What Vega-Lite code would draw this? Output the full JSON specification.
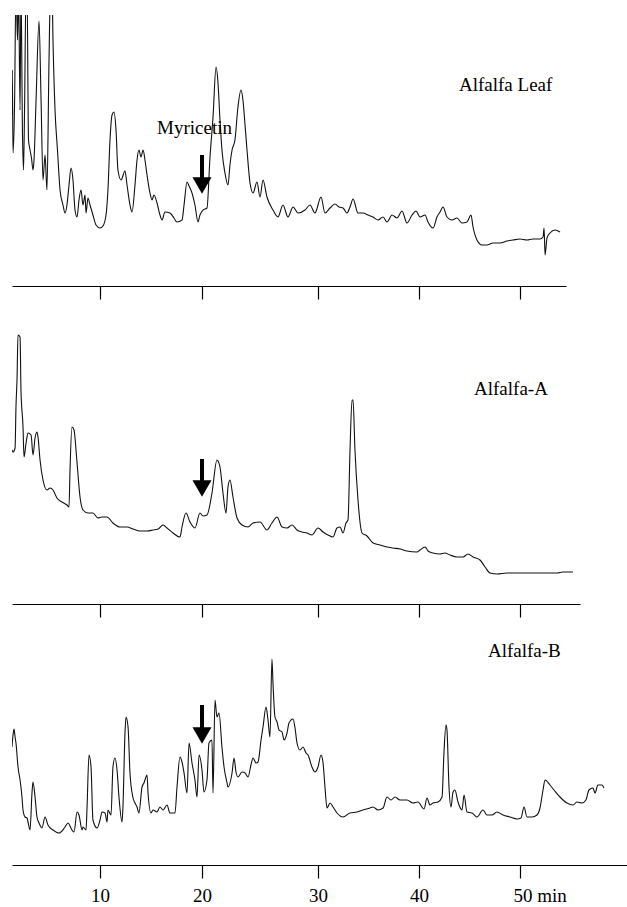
{
  "$schema": "https://vega.github.io/schema/vega-lite/v6.json",
  "padding": {"left": 12, "top": 15, "right": 0, "bottom": 0},
  "spacing": 0,
  "background": "white",
  "config": {"view": {"stroke": null}, "font": "Liberation Serif"},
  "datasets": {
    "leaf": [
      {"t":1.37,"v":171},{"t":1.40,"v":216},{"t":1.47,"v":133},{"t":1.62,"v":181},{"t":1.76,"v":300},{"t":1.91,"v":246},{"t":2.01,"v":300},{"t":2.16,"v":176},{"t":2.25,"v":300},{"t":2.40,"v":151},{"t":2.50,"v":116},{"t":2.60,"v":176},{"t":2.75,"v":300},{"t":2.84,"v":300},{"t":2.99,"v":146},{"t":3.14,"v":136},{"t":3.28,"v":128},{"t":3.43,"v":116},{"t":3.53,"v":126},{"t":3.73,"v":186},{"t":4.02,"v":265},{"t":4.22,"v":186},{"t":4.41,"v":106},{"t":4.61,"v":131},{"t":4.80,"v":96},{"t":5.00,"v":226},{"t":5.15,"v":300},{"t":5.29,"v":300},{"t":5.39,"v":246},{"t":5.59,"v":176},{"t":5.83,"v":136},{"t":6.08,"v":96},{"t":6.37,"v":81},{"t":6.57,"v":73},{"t":6.76,"v":81},{"t":6.96,"v":101},{"t":7.16,"v":118},{"t":7.35,"v":106},{"t":7.55,"v":76},{"t":7.75,"v":69},{"t":7.94,"v":86},{"t":8.14,"v":96},{"t":8.33,"v":81},{"t":8.53,"v":91},{"t":8.63,"v":73},{"t":8.82,"v":88},{"t":9.02,"v":81},{"t":9.31,"v":71},{"t":9.61,"v":61},{"t":10.00,"v":58},{"t":10.29,"v":60},{"t":10.59,"v":71},{"t":10.78,"v":96},{"t":10.98,"v":146},{"t":11.18,"v":171},{"t":11.37,"v":174},{"t":11.57,"v":156},{"t":11.76,"v":116},{"t":12.06,"v":106},{"t":12.45,"v":115},{"t":12.65,"v":101},{"t":12.94,"v":81},{"t":13.14,"v":74},{"t":13.43,"v":101},{"t":13.63,"v":126},{"t":13.82,"v":136},{"t":14.02,"v":129},{"t":14.22,"v":136},{"t":14.41,"v":126},{"t":14.61,"v":111},{"t":14.90,"v":93},{"t":15.10,"v":86},{"t":15.29,"v":91},{"t":15.59,"v":83},{"t":15.88,"v":71},{"t":16.08,"v":66},{"t":16.37,"v":74},{"t":16.86,"v":73},{"t":17.25,"v":68},{"t":17.55,"v":64},{"t":18.04,"v":66},{"t":18.24,"v":81},{"t":18.53,"v":104},{"t":18.73,"v":100},{"t":19.02,"v":93},{"t":19.31,"v":81},{"t":19.61,"v":64},{"t":19.80,"v":71},{"t":20.09,"v":76},{"t":20.43,"v":78},{"t":20.69,"v":129},{"t":20.95,"v":169},{"t":21.21,"v":219},{"t":21.38,"v":203},{"t":21.55,"v":166},{"t":21.72,"v":136},{"t":21.98,"v":113},{"t":22.24,"v":101},{"t":22.41,"v":121},{"t":22.59,"v":136},{"t":22.84,"v":146},{"t":23.10,"v":179},{"t":23.36,"v":196},{"t":23.53,"v":186},{"t":23.71,"v":161},{"t":23.88,"v":136},{"t":24.14,"v":103},{"t":24.40,"v":93},{"t":24.74,"v":104},{"t":25.00,"v":89},{"t":25.26,"v":106},{"t":25.60,"v":89},{"t":26.12,"v":76},{"t":26.55,"v":69},{"t":26.98,"v":81},{"t":27.41,"v":69},{"t":27.85,"v":79},{"t":28.28,"v":73},{"t":28.88,"v":76},{"t":29.31,"v":81},{"t":29.74,"v":73},{"t":30.30,"v":89},{"t":30.69,"v":73},{"t":31.19,"v":78},{"t":31.68,"v":82},{"t":32.08,"v":79},{"t":32.48,"v":78},{"t":32.87,"v":73},{"t":33.17,"v":79},{"t":33.47,"v":87},{"t":33.96,"v":73},{"t":34.46,"v":73},{"t":34.95,"v":71},{"t":35.45,"v":69},{"t":35.94,"v":66},{"t":36.44,"v":69},{"t":36.83,"v":64},{"t":37.33,"v":71},{"t":37.82,"v":68},{"t":38.32,"v":75},{"t":38.81,"v":63},{"t":39.31,"v":71},{"t":39.70,"v":75},{"t":40.10,"v":69},{"t":40.60,"v":71},{"t":40.89,"v":64},{"t":41.39,"v":58},{"t":41.78,"v":69},{"t":42.08,"v":74},{"t":42.38,"v":79},{"t":42.77,"v":69},{"t":43.27,"v":66},{"t":43.76,"v":68},{"t":44.26,"v":63},{"t":44.75,"v":64},{"t":45.15,"v":71},{"t":45.35,"v":59},{"t":45.74,"v":46},{"t":46.24,"v":41},{"t":46.73,"v":41},{"t":47.33,"v":43},{"t":48.02,"v":43},{"t":48.71,"v":45},{"t":49.31,"v":46},{"t":50.00,"v":47},{"t":50.69,"v":46},{"t":51.29,"v":47},{"t":51.98,"v":47},{"t":52.28,"v":49},{"t":52.38,"v":58},{"t":52.48,"v":31},{"t":52.67,"v":48},{"t":52.97,"v":53},{"t":53.46,"v":56},{"t":53.96,"v":54}
    ],
    "alfA": [
      {"t":1.37,"v":154},{"t":1.47,"v":152},{"t":1.67,"v":156},{"t":1.76,"v":197},{"t":1.86,"v":224},{"t":1.96,"v":269},{"t":2.16,"v":267},{"t":2.25,"v":214},{"t":2.45,"v":177},{"t":2.55,"v":147},{"t":2.75,"v":161},{"t":2.94,"v":171},{"t":3.24,"v":169},{"t":3.43,"v":149},{"t":3.63,"v":166},{"t":3.82,"v":172},{"t":3.92,"v":167},{"t":4.12,"v":144},{"t":4.41,"v":124},{"t":4.80,"v":114},{"t":5.10,"v":116},{"t":5.39,"v":114},{"t":5.78,"v":106},{"t":6.27,"v":102},{"t":6.76,"v":99},{"t":6.96,"v":97},{"t":7.06,"v":134},{"t":7.25,"v":177},{"t":7.45,"v":174},{"t":7.75,"v":141},{"t":8.04,"v":107},{"t":8.33,"v":94},{"t":8.82,"v":91},{"t":9.31,"v":91},{"t":9.80,"v":86},{"t":10.20,"v":87},{"t":10.69,"v":87},{"t":11.27,"v":81},{"t":11.96,"v":77},{"t":12.65,"v":77},{"t":13.24,"v":75},{"t":13.92,"v":73},{"t":14.61,"v":73},{"t":15.20,"v":74},{"t":15.69,"v":75},{"t":16.18,"v":79},{"t":16.57,"v":76},{"t":17.16,"v":71},{"t":17.84,"v":67},{"t":18.04,"v":77},{"t":18.43,"v":91},{"t":18.82,"v":82},{"t":19.31,"v":76},{"t":19.80,"v":91},{"t":20.09,"v":88},{"t":20.43,"v":89},{"t":20.86,"v":111},{"t":21.29,"v":144},{"t":21.55,"v":137},{"t":21.81,"v":111},{"t":22.07,"v":91},{"t":22.24,"v":117},{"t":22.41,"v":124},{"t":22.67,"v":107},{"t":23.02,"v":86},{"t":23.45,"v":79},{"t":23.97,"v":77},{"t":24.40,"v":81},{"t":25.00,"v":82},{"t":25.60,"v":74},{"t":26.03,"v":81},{"t":26.47,"v":87},{"t":26.90,"v":77},{"t":27.33,"v":76},{"t":27.76,"v":79},{"t":28.19,"v":74},{"t":28.62,"v":72},{"t":29.05,"v":71},{"t":29.48,"v":69},{"t":30.00,"v":76},{"t":30.50,"v":72},{"t":30.99,"v":69},{"t":31.49,"v":67},{"t":31.88,"v":76},{"t":32.18,"v":77},{"t":32.48,"v":71},{"t":32.77,"v":81},{"t":32.97,"v":84},{"t":33.17,"v":154},{"t":33.37,"v":204},{"t":33.47,"v":204},{"t":33.66,"v":154},{"t":33.96,"v":104},{"t":34.36,"v":71},{"t":34.85,"v":68},{"t":35.45,"v":61},{"t":36.14,"v":59},{"t":36.83,"v":57},{"t":37.43,"v":56},{"t":38.12,"v":55},{"t":38.81,"v":53},{"t":39.80,"v":52},{"t":40.10,"v":54},{"t":40.60,"v":57},{"t":40.89,"v":53},{"t":41.39,"v":51},{"t":42.08,"v":50},{"t":42.57,"v":51},{"t":43.07,"v":49},{"t":43.76,"v":47},{"t":44.36,"v":47},{"t":44.85,"v":50},{"t":45.35,"v":47},{"t":46.04,"v":44},{"t":46.54,"v":37},{"t":47.03,"v":31},{"t":47.72,"v":30},{"t":48.71,"v":31},{"t":50.00,"v":31},{"t":51.29,"v":31},{"t":52.67,"v":31},{"t":53.66,"v":31},{"t":54.26,"v":32},{"t":55.25,"v":32}
    ],
    "alfB": [
      {"t":1.37,"v":118},{"t":1.47,"v":130},{"t":1.57,"v":136},{"t":1.67,"v":128},{"t":1.76,"v":122},{"t":1.96,"v":98},{"t":2.16,"v":85},{"t":2.35,"v":68},{"t":2.45,"v":55},{"t":2.65,"v":48},{"t":2.84,"v":47},{"t":2.94,"v":43},{"t":3.14,"v":35},{"t":3.33,"v":72},{"t":3.43,"v":83},{"t":3.63,"v":68},{"t":3.82,"v":48},{"t":4.02,"v":42},{"t":4.31,"v":37},{"t":4.61,"v":48},{"t":4.90,"v":40},{"t":5.39,"v":35},{"t":5.98,"v":32},{"t":6.57,"v":38},{"t":6.86,"v":42},{"t":7.25,"v":35},{"t":7.45,"v":33},{"t":7.75,"v":53},{"t":7.94,"v":50},{"t":8.24,"v":35},{"t":8.33,"v":38},{"t":8.63,"v":35},{"t":8.73,"v":58},{"t":8.92,"v":110},{"t":9.12,"v":98},{"t":9.31,"v":45},{"t":9.71,"v":37},{"t":10.00,"v":45},{"t":10.20,"v":53},{"t":10.49,"v":52},{"t":10.69,"v":43},{"t":10.78,"v":55},{"t":11.08,"v":50},{"t":11.27,"v":98},{"t":11.47,"v":107},{"t":11.67,"v":95},{"t":11.86,"v":68},{"t":12.16,"v":43},{"t":12.25,"v":58},{"t":12.45,"v":132},{"t":12.55,"v":148},{"t":12.75,"v":138},{"t":12.94,"v":92},{"t":13.24,"v":67},{"t":13.43,"v":62},{"t":13.63,"v":58},{"t":13.82,"v":52},{"t":14.12,"v":78},{"t":14.31,"v":82},{"t":14.61,"v":90},{"t":14.71,"v":72},{"t":15.00,"v":52},{"t":15.20,"v":55},{"t":15.59,"v":53},{"t":15.88,"v":58},{"t":16.18,"v":55},{"t":16.57,"v":60},{"t":16.86,"v":52},{"t":17.35,"v":52},{"t":17.55,"v":78},{"t":17.84,"v":108},{"t":18.04,"v":103},{"t":18.24,"v":92},{"t":18.53,"v":72},{"t":18.73,"v":122},{"t":19.02,"v":102},{"t":19.31,"v":85},{"t":19.51,"v":68},{"t":19.71,"v":110},{"t":20.00,"v":95},{"t":20.17,"v":73},{"t":20.43,"v":85},{"t":20.60,"v":122},{"t":20.86,"v":125},{"t":20.95,"v":72},{"t":21.12,"v":165},{"t":21.29,"v":148},{"t":21.47,"v":152},{"t":21.72,"v":118},{"t":21.90,"v":98},{"t":22.16,"v":82},{"t":22.24,"v":78},{"t":22.59,"v":92},{"t":22.76,"v":107},{"t":22.93,"v":93},{"t":23.10,"v":88},{"t":23.45,"v":93},{"t":23.71,"v":92},{"t":23.97,"v":88},{"t":24.22,"v":100},{"t":24.40,"v":107},{"t":24.66,"v":102},{"t":24.83,"v":103},{"t":25.09,"v":125},{"t":25.26,"v":138},{"t":25.52,"v":158},{"t":25.69,"v":145},{"t":25.86,"v":128},{"t":26.03,"v":206},{"t":26.12,"v":182},{"t":26.29,"v":148},{"t":26.47,"v":143},{"t":26.64,"v":135},{"t":26.90,"v":133},{"t":27.07,"v":125},{"t":27.33,"v":132},{"t":27.50,"v":142},{"t":27.85,"v":146},{"t":28.02,"v":137},{"t":28.19,"v":122},{"t":28.45,"v":115},{"t":28.71,"v":118},{"t":28.97,"v":112},{"t":29.14,"v":110},{"t":29.48,"v":98},{"t":29.74,"v":93},{"t":30.00,"v":98},{"t":30.30,"v":110},{"t":30.50,"v":102},{"t":30.69,"v":78},{"t":30.89,"v":57},{"t":31.19,"v":62},{"t":31.49,"v":58},{"t":31.88,"v":52},{"t":32.48,"v":48},{"t":33.17,"v":52},{"t":33.86,"v":53},{"t":34.46,"v":55},{"t":35.15,"v":57},{"t":35.45,"v":58},{"t":35.94,"v":55},{"t":36.44,"v":57},{"t":36.83,"v":68},{"t":37.23,"v":65},{"t":37.62,"v":68},{"t":38.12,"v":65},{"t":38.81,"v":65},{"t":39.41,"v":62},{"t":39.90,"v":63},{"t":40.50,"v":56},{"t":40.79,"v":67},{"t":41.09,"v":60},{"t":41.39,"v":62},{"t":41.88,"v":63},{"t":42.28,"v":68},{"t":42.47,"v":112},{"t":42.67,"v":140},{"t":42.77,"v":135},{"t":42.97,"v":78},{"t":43.17,"v":58},{"t":43.37,"v":73},{"t":43.56,"v":75},{"t":43.86,"v":63},{"t":44.26,"v":55},{"t":44.46,"v":70},{"t":44.75,"v":53},{"t":45.25,"v":52},{"t":45.74,"v":48},{"t":46.34,"v":55},{"t":46.73,"v":50},{"t":47.23,"v":50},{"t":47.72,"v":53},{"t":48.32,"v":50},{"t":49.01,"v":48},{"t":49.70,"v":46},{"t":50.10,"v":47},{"t":50.40,"v":58},{"t":50.69,"v":48},{"t":51.19,"v":48},{"t":51.68,"v":50},{"t":51.98,"v":57},{"t":52.28,"v":75},{"t":52.48,"v":85},{"t":52.97,"v":80},{"t":53.37,"v":75},{"t":53.96,"v":68},{"t":54.65,"v":62},{"t":55.25,"v":60},{"t":55.64,"v":63},{"t":56.14,"v":62},{"t":56.53,"v":65},{"t":56.83,"v":75},{"t":57.23,"v":77},{"t":57.43,"v":72},{"t":57.72,"v":80},{"t":58.12,"v":80},{"t":58.32,"v":77}
    ],
    "labels": [
      {"panel":"leaf","t":43.96,"v":195,"label":"Alfalfa Leaf"},
      {"panel":"leaf","t":15.59,"v":152,"label":"Myricetin"},
      {"panel":"A","t":45.45,"v":209,"label":"Alfalfa-A"},
      {"panel":"B","t":46.83,"v":208,"label":"Alfalfa-B"}
    ],
    "arrows": [
      {"panel":"leaf","t":20,"top":131,"bot":104,"head":100.5},
      {"panel":"A","t":20,"top":145,"bot":119,"head":115.5},
      {"panel":"B","t":20,"top":160,"bot":133,"head":129.5}
    ]
  },
  "resolve": {"scale": {"x": "independent", "y": "independent"}},
  "vconcat": [
    {
      "width": 554, "height": 271,
      "encoding": {
        "x": {"field": "t", "type": "quantitative",
          "scale": {"domain": [1.37, 10, 20, 30, 40, 50, 54.55], "range": [0, 88, 190, 306, 407, 508, 554], "nice": false, "zero": false},
          "axis": {"values": [10, 20, 30, 40, 50], "labels": false, "tickSize": 13, "tickColor": "black", "tickWidth": 1.2, "domainColor": "black", "domainWidth": 1.2, "title": null, "grid": false, "minExtent": 0, "offset": 0}},
        "y": {"field": "v", "type": "quantitative", "scale": {"domain": [0, 271], "nice": false, "zero": false}, "axis": null}
      },
      "layer": [
        {"data": {"name": "leaf"}, "mark": {"type": "line", "color": "#111111", "strokeWidth": 1.1, "clip": true, "interpolate": "monotone"}},
        {"data": {"name": "labels"}, "transform": [{"filter": "datum.panel == 'leaf'"}],
          "mark": {"type": "text", "align": "left", "baseline": "alphabetic", "fontSize": 19, "font": "Liberation Serif", "color": "black"},
          "encoding": {"text": {"field": "label"}}},
        {"data": {"name": "arrows"}, "transform": [{"filter": "datum.panel == 'leaf'"}],
          "mark": {"type": "rule", "strokeWidth": 4, "color": "black"},
          "encoding": {"y": {"field": "top", "type": "quantitative", "scale": {"domain": [0, 271], "nice": false, "zero": false}, "axis": null}, "y2": {"field": "bot"}}},
        {"data": {"name": "arrows"}, "transform": [{"filter": "datum.panel == 'leaf'"}],
          "mark": {"type": "point", "shape": "triangle-down", "size": 361, "filled": true, "opacity": 1, "color": "black", "strokeWidth": 0},
          "encoding": {"y": {"field": "head", "type": "quantitative", "scale": {"domain": [0, 271], "nice": false, "zero": false}, "axis": null}}}
      ]
    },
    {
      "width": 568, "height": 304,
      "encoding": {
        "x": {"field": "t", "type": "quantitative",
          "scale": {"domain": [1.37, 10, 20, 30, 40, 50, 55.94], "range": [0, 88, 190, 306, 407, 508, 568], "nice": false, "zero": false},
          "axis": {"values": [10, 20, 30, 40, 50], "labels": false, "tickSize": 13, "tickColor": "black", "tickWidth": 1.2, "domainColor": "black", "domainWidth": 1.2, "title": null, "grid": false, "minExtent": 0, "offset": 0}},
        "y": {"field": "v", "type": "quantitative", "scale": {"domain": [0, 304], "nice": false, "zero": false}, "axis": null}
      },
      "layer": [
        {"data": {"name": "alfA"}, "mark": {"type": "line", "color": "#111111", "strokeWidth": 1.1, "clip": true, "interpolate": "monotone"}},
        {"data": {"name": "labels"}, "transform": [{"filter": "datum.panel == 'A'"}],
          "mark": {"type": "text", "align": "left", "baseline": "alphabetic", "fontSize": 19, "font": "Liberation Serif", "color": "black"},
          "encoding": {"text": {"field": "label"}}},
        {"data": {"name": "arrows"}, "transform": [{"filter": "datum.panel == 'A'"}],
          "mark": {"type": "rule", "strokeWidth": 4, "color": "black"},
          "encoding": {"y": {"field": "top", "type": "quantitative", "scale": {"domain": [0, 304], "nice": false, "zero": false}, "axis": null}, "y2": {"field": "bot"}}},
        {"data": {"name": "arrows"}, "transform": [{"filter": "datum.panel == 'A'"}],
          "mark": {"type": "point", "shape": "triangle-down", "size": 361, "filled": true, "opacity": 1, "color": "black", "strokeWidth": 0},
          "encoding": {"y": {"field": "head", "type": "quantitative", "scale": {"domain": [0, 304], "nice": false, "zero": false}, "axis": null}}}
      ]
    },
    {
      "width": 615, "height": 247,
      "encoding": {
        "x": {"field": "t", "type": "quantitative",
          "scale": {"domain": [1.37, 10, 20, 30, 40, 50, 60.6], "range": [0, 88, 190, 306, 407, 508, 615], "nice": false, "zero": false},
          "axis": {"values": [10, 20, 30, 40, 50], "labels": true, "tickSize": 13, "tickColor": "black", "tickWidth": 1.2, "domainColor": "black", "domainWidth": 1.2, "title": null, "grid": false, "minExtent": 0, "offset": 0,
            "labelFont": "Liberation Serif", "labelFontSize": 19, "labelColor": "black", "labelPadding": 8, "labelFlush": false, "labelOverlap": false,
            "labelExpr": "datum.value == 50 ? '50 min' : datum.label",
            "labelAlign": {"condition": {"test": "datum.value == 50", "value": "left"}, "value": "center"},
            "labelOffset": {"condition": {"test": "datum.value == 50", "value": -7}, "value": 0}}},
        "y": {"field": "v", "type": "quantitative", "scale": {"domain": [0, 247], "nice": false, "zero": false}, "axis": null}
      },
      "layer": [
        {"data": {"name": "alfB"}, "mark": {"type": "line", "color": "#111111", "strokeWidth": 1.1, "clip": true, "interpolate": "monotone"}},
        {"data": {"name": "labels"}, "transform": [{"filter": "datum.panel == 'B'"}],
          "mark": {"type": "text", "align": "left", "baseline": "alphabetic", "fontSize": 19, "font": "Liberation Serif", "color": "black"},
          "encoding": {"text": {"field": "label"}}},
        {"data": {"name": "arrows"}, "transform": [{"filter": "datum.panel == 'B'"}],
          "mark": {"type": "rule", "strokeWidth": 4, "color": "black"},
          "encoding": {"y": {"field": "top", "type": "quantitative", "scale": {"domain": [0, 247], "nice": false, "zero": false}, "axis": null}, "y2": {"field": "bot"}}},
        {"data": {"name": "arrows"}, "transform": [{"filter": "datum.panel == 'B'"}],
          "mark": {"type": "point", "shape": "triangle-down", "size": 361, "filled": true, "opacity": 1, "color": "black", "strokeWidth": 0},
          "encoding": {"y": {"field": "head", "type": "quantitative", "scale": {"domain": [0, 247], "nice": false, "zero": false}, "axis": null}}}
      ]
    }
  ]
}
